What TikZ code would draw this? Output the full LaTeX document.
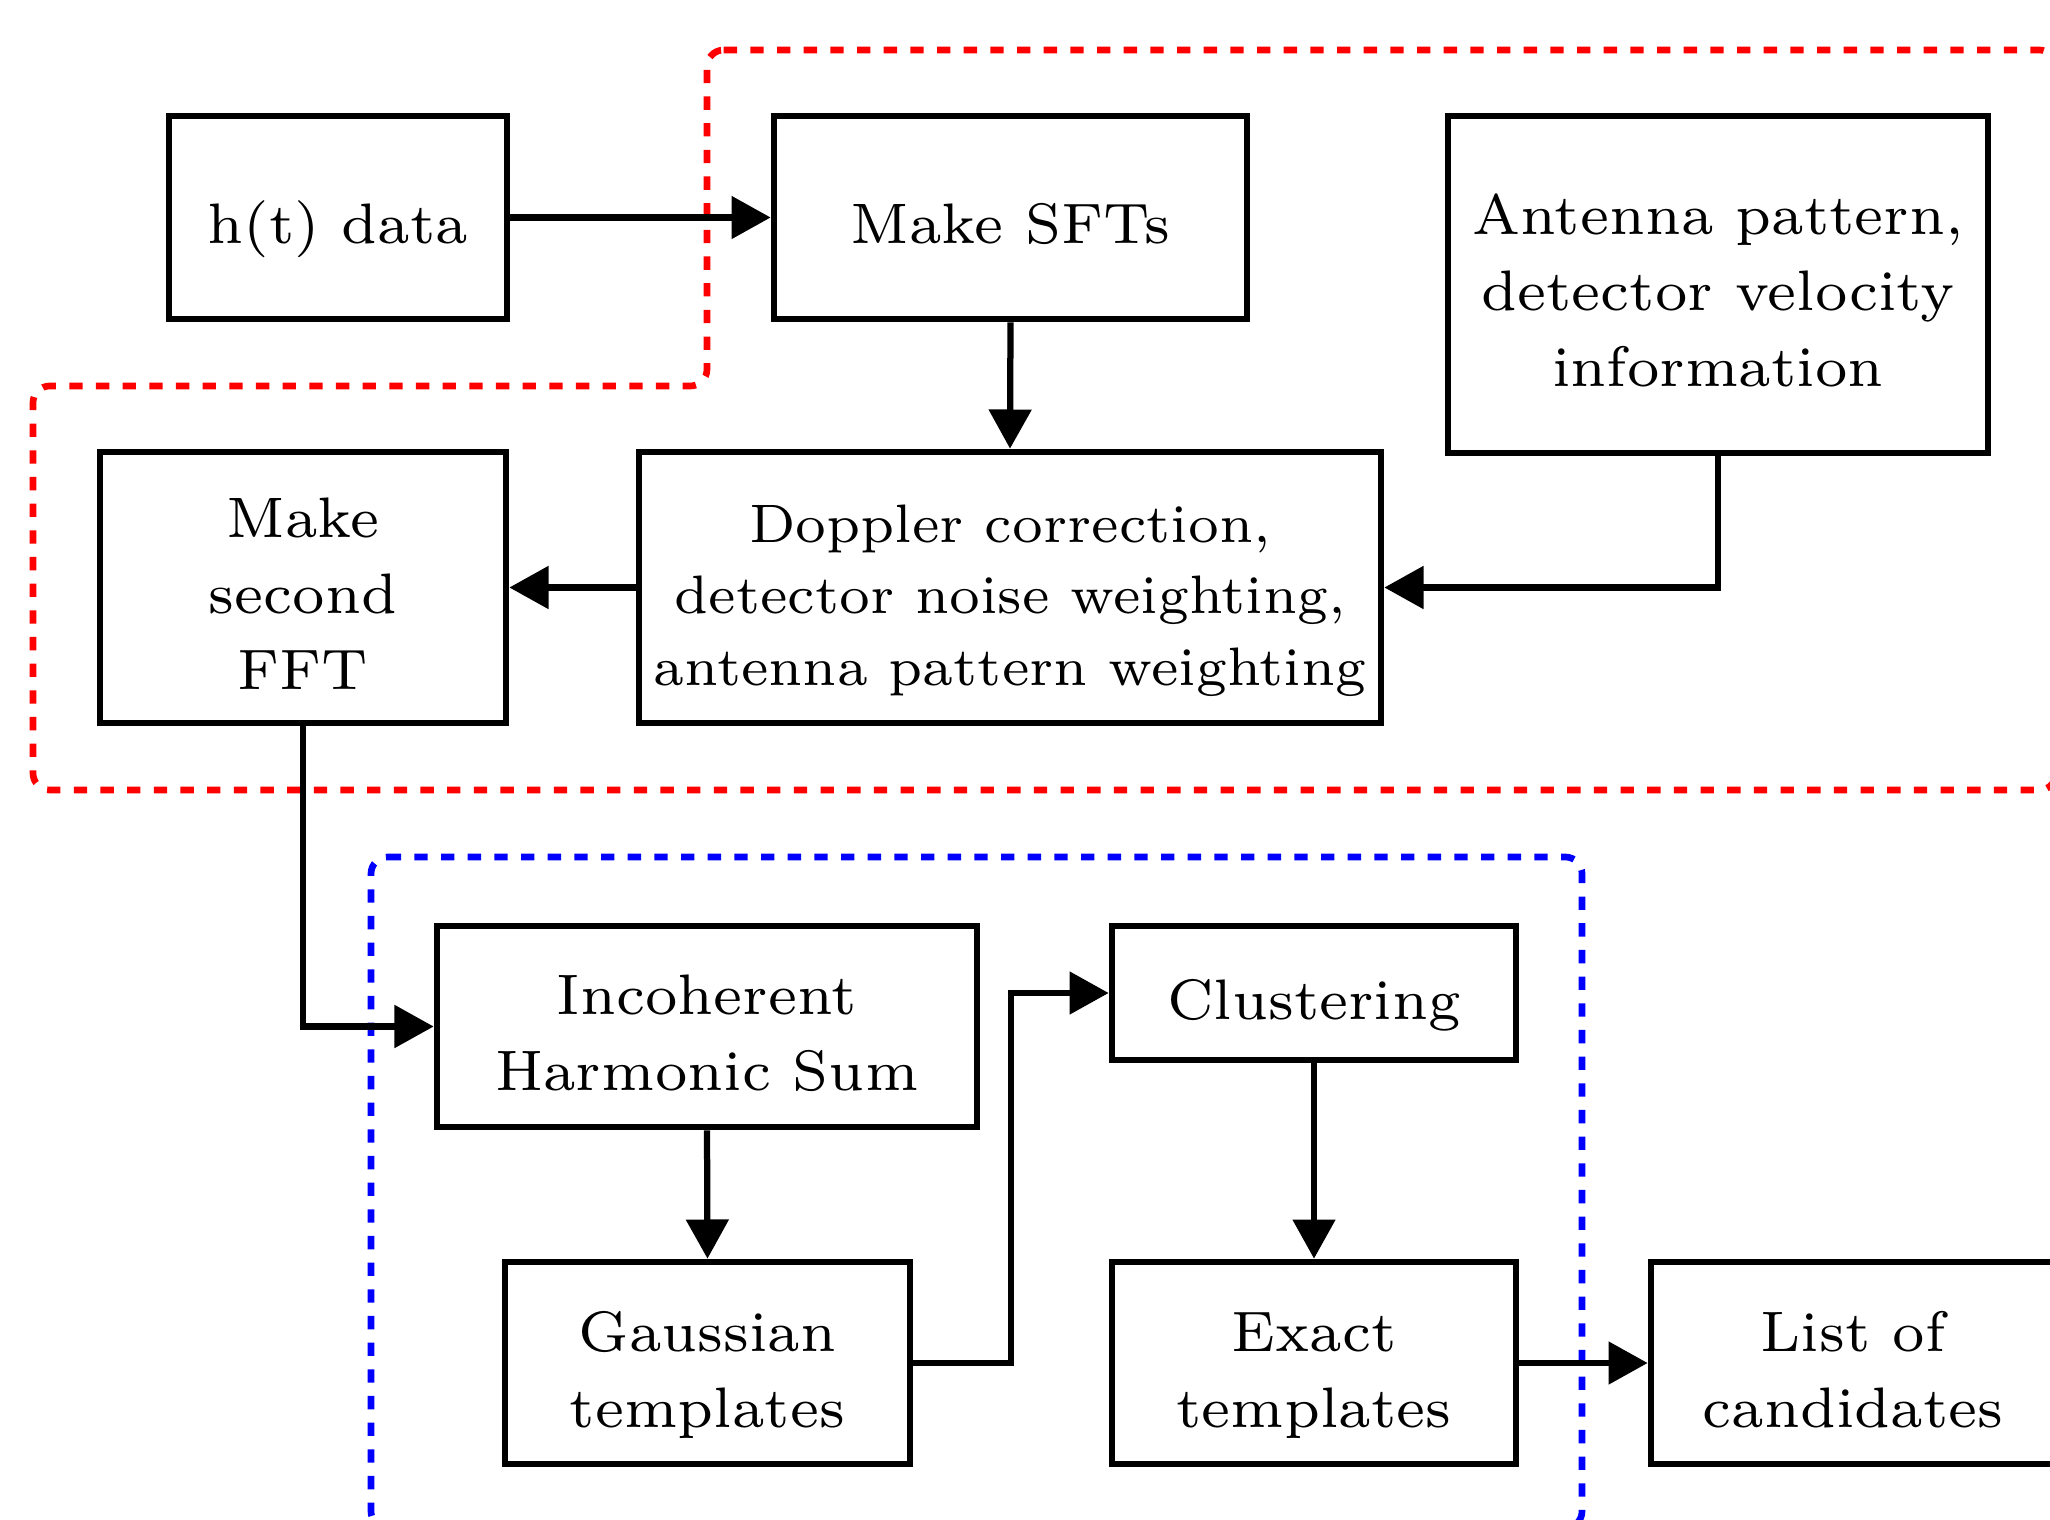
\documentclass[tikz,border=0pt]{standalone}
\usetikzlibrary{arrows.meta,calc}
\newcommand\tA{\rule{0pt}{8.3pt}}
\newcommand\tD{\rule[-2pt]{0pt}{2pt}}
\begin{document}
\begin{tikzpicture}[x=0.12pt,y=-0.12pt,
  every node/.style={font=\fontsize{6.85}{9.1}\selectfont},
  blk/.style={draw,line width=0.8pt,align=center,inner sep=0pt,anchor=center},
  conn/.style={line width=0.75pt,-{Triangle[length=4.7pt,width=5pt]}},
  redgroup/.style={draw=red,line width=0.8pt,dash pattern=on 1.6pt off 1.6pt,rounded corners=2pt},
  bluegroup/.style={draw=blue,line width=0.8pt,dash pattern=on 1.6pt off 1.6pt,rounded corners=2pt}]
\useasboundingbox (0,0) rectangle (2050,1520);
\clip (0,0) rectangle (2050,1520);
% groups
\draw[redgroup] (707,50) -- (2056,50) -- (2056,790) -- (33,790) -- (33,386) -- (707,386) -- cycle;
\draw[bluegroup] (371,857) -- (1582,857) -- (1582,1528) -- (371,1528) -- cycle;
% nodes
\node[blk,minimum width=40.56pt,minimum height=24.36pt] (ht) at (338,217.5) {\tA h(t) data\tD};
\node[blk,minimum width=56.76pt,minimum height=24.36pt] (sft) at (1010.5,217.5) {\tA Make SFTs\tD};
\node[blk,minimum width=64.8pt,minimum height=40.44pt] (ant) at (1718,284.5) {\tA Antenna pattern,\\detector velocity\\information\tD};
\node[blk,minimum width=48.72pt,minimum height=32.52pt] (fft) at (303,587.5) {\tA Make\\second\\FFT\tD};
\node[blk,minimum width=89.04pt,minimum height=32.52pt,font=\fontsize{6.5}{8.6}\selectfont] (dop) at (1010,587.5) {\tA Doppler correction,\\detector noise weighting,\\antenna pattern weighting\tD};
\node[blk,minimum width=64.8pt,minimum height=24.12pt] (ihs) at (707,1026.5) {\tA Incoherent\\Harmonic Sum\tD};
\node[blk,minimum width=48.48pt,minimum height=16.08pt] (clu) at (1314,993) {\tA Clustering\tD};
\node[blk,minimum width=48.6pt,minimum height=24.24pt] (gau) at (707.5,1363) {\tA Gaussian\\templates\tD};
\node[blk,minimum width=48.48pt,minimum height=24.24pt] (exa) at (1314,1363) {\tA Exact\\templates\tD};
\node[blk,minimum width=48.48pt,minimum height=24.24pt] (lis) at (1853,1363) {\tA List of\\candidates\tD};
% connectors
\draw[conn] (ht.east) -- (sft.west);
\draw[conn] (sft.south) -- (dop.north);
\draw[conn] (ant.south) |- (dop.east);
\draw[conn] (dop.west) -- (fft.east);
\draw[conn] (fft.south) |- (ihs.west);
\draw[conn] (ihs.south) -- (gau.north);
\coordinate (mid) at ($(gau.east)!0.5!(clu.west)$);
\draw[conn] (gau.east) -| (mid) |- (clu.west);
\draw[conn] (clu.south) -- (exa.north);
\draw[conn] (exa.east) -- (lis.west);
\end{tikzpicture}
\end{document}
